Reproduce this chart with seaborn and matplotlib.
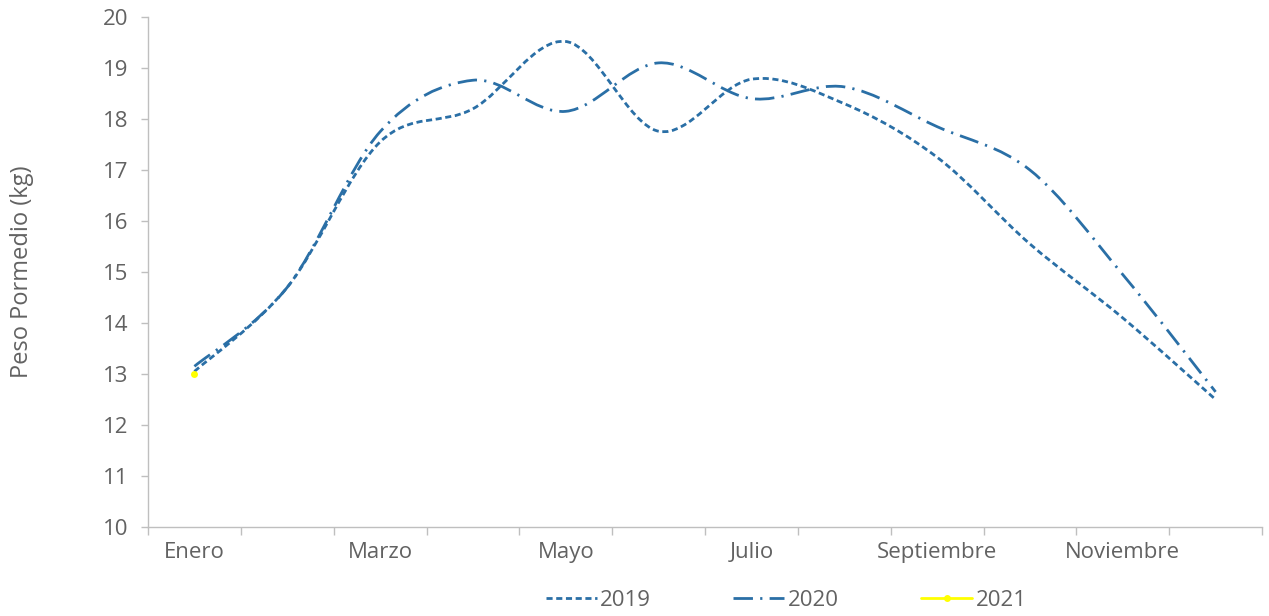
import numpy as np
import pandas as pd
import seaborn as sns
import matplotlib
matplotlib.use("Agg")
import matplotlib.pyplot as plt
from matplotlib.path import Path
from matplotlib.patches import PathPatch
from matplotlib.lines import Line2D

# data
meses = ["Enero", "Febrero", "Marzo", "Abril", "Mayo", "Junio", "Julio",
         "Agosto", "Septiembre", "Octubre", "Noviembre", "Diciembre"]
peso_2019 = [13.05, 14.7, 17.55, 18.2, 19.52, 17.76, 18.78, 18.3, 17.25, 15.55, 14.1, 12.5]
peso_2020 = [13.15, 14.7, 17.75, 18.76, 18.15, 19.1, 18.4, 18.63, 17.85, 17.0, 14.95, 12.65]
peso_2021 = [13.0]

BLUE = "#2A6FA6"
GRAY = "#626262"
AXIS = "#BFBFBF"

sns.set_style("white")
plt.rcParams["font.family"] = ["Open Sans", "DejaVu Sans"]


def smooth_path(xs, ys):
    # excel-like smoothed line: cubic bezier through every point
    pts = np.column_stack([xs, ys]).astype(float)
    n = len(pts)
    verts = [pts[0]]
    codes = [Path.MOVETO]
    for i in range(n - 1):
        p0 = pts[i - 1] if i > 0 else pts[i]
        p1 = pts[i]
        p2 = pts[i + 1]
        p3 = pts[i + 2] if i + 2 < n else pts[i + 1]
        verts += [p1 + (p2 - p0) / 6, p2 - (p3 - p1) / 6, p2]
        codes += [Path.CURVE4] * 3
    return Path(verts, codes)


fig = plt.figure(figsize=(12.69, 6.16), dpi=100)
ax = fig.add_axes([148 / 1269, 1 - 527 / 616, (1262 - 148) / 1269, (527 - 17) / 616])

pos = np.arange(len(meses)) + 0.5

style_2019 = (0, (2.2, 1.3))
style_2020 = (0, (7, 2.6, 0.8, 2.6))

ax.add_patch(PathPatch(smooth_path(pos, peso_2019), fill=False, edgecolor=BLUE,
                       lw=2.0, linestyle=style_2019, capstyle="butt"))
ax.add_patch(PathPatch(smooth_path(pos, peso_2020), fill=False, edgecolor=BLUE,
                       lw=2.0, linestyle=style_2020, capstyle="butt"))

df21 = pd.DataFrame({"pos": pos[:len(peso_2021)], "peso": peso_2021})
sns.lineplot(data=df21, x="pos", y="peso", ax=ax, color="#FFFF00",
             marker="o", markersize=5, markeredgewidth=0, legend=False)

ax.set_xlim(0, 12)
ax.set_ylim(10, 20)
ax.set_xlabel("")
ax.set_ylabel("")

sns.despine(ax=ax)
for s in ["left", "bottom"]:
    ax.spines[s].set_color(AXIS)
    ax.spines[s].set_linewidth(1.0)

ax.set_yticks(np.arange(10, 21, 1))
ax.tick_params(axis="y", which="major", direction="out", length=5, width=1,
               color=AXIS, labelcolor=GRAY, labelsize=16, pad=9, left=True)

ax.set_xticks(np.arange(0, 13, 1))
ax.set_xticklabels([])
ax.set_xticks(pos[::2], minor=True)
ax.set_xticklabels(meses[::2], minor=True)
ax.tick_params(axis="x", which="major", direction="out", length=6, width=1,
               color=AXIS, bottom=True)
ax.tick_params(axis="x", which="minor", length=0, labelcolor=GRAY,
               labelsize=16, pad=11)

fig.text(22 / 1269, 1 - 272 / 616, "Peso Pormedio (kg)", rotation=90,
         ha="center", va="center", color=GRAY, fontsize=17)

handles = [
    Line2D([], [], color=BLUE, lw=2.0, linestyle=style_2019),
    Line2D([], [], color=BLUE, lw=2.0, linestyle=style_2020),
    Line2D([], [], color="#FFFF00", lw=2.0, marker="o", markersize=5,
           markeredgewidth=0),
]
leg = fig.legend(handles, ["2019", "2020", "2021"], loc="center",
                 bbox_to_anchor=(786 / 1269, 1 - 600 / 616), ncol=3,
                 frameon=False, fontsize=16, handlelength=2.3,
                 handletextpad=0.15, columnspacing=3.7)
for t in leg.get_texts():
    t.set_color(GRAY)

fig.savefig("out.png", dpi=100, facecolor="white")
